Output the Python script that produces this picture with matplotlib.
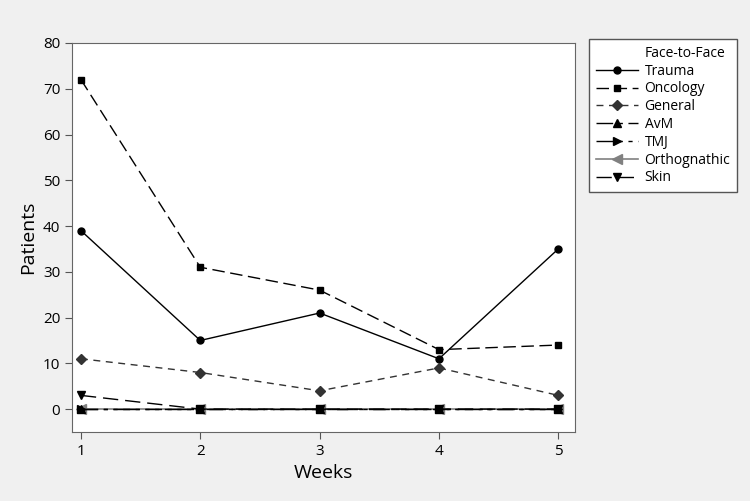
import matplotlib.pyplot as plt
from matplotlib.lines import Line2D

plt.rcParams['font.family'] = ['Open Sans', 'DejaVu Sans']

weeks = [1, 2, 3, 4, 5]
trauma = [39, 15, 21, 11, 35]
oncology = [72, 31, 26, 13, 14]
general = [11, 8, 4, 9, 3]
avm = [0, 0, 0, 0, 0]
tmj = [0, 0, 0, 0, 0]
orthognathic = [0, 0, 0, 0, 0]
skin = [3, 0, 0, 0, 0]

fig = plt.figure(figsize=(7.5, 5.01), dpi=100)
fig.set_facecolor('#f0f0f0')
ax = fig.add_axes([72 / 750, 1 - 432 / 501, (575 - 72) / 750, (432 - 43) / 501])

ax.plot(weeks, orthognathic, color='#808080', marker='<', markersize=7, linewidth=1.2, label='Orthognathic')
ax.plot(weeks, trauma, color='black', marker='o', markersize=5, linewidth=1, label='Trauma')
ax.plot(weeks, oncology, color='black', marker='s', markersize=5, linewidth=1, dashes=(9, 4), label='Oncology')
ax.plot(weeks, general, color='#333333', marker='D', markersize=5, linewidth=1, dashes=(5, 4), label='General')
ax.plot(weeks, avm, color='black', marker='^', markersize=6, linewidth=1, dashes=(12, 4, 3, 4), label='AvM')
ax.plot(weeks, tmj, color='black', marker='>', markersize=6, linewidth=1, dashes=(12, 4, 3, 4, 3, 4), label='TMJ')
ax.plot(weeks, skin, color='black', marker='v', markersize=6, linewidth=1, dashes=(11, 5), label='Skin')

ax.set_xlim(0.925, 5.14)
ax.set_ylim(-5, 80)
ax.set_xticks(weeks)
ax.set_yticks(range(0, 81, 10))
ax.tick_params(labelsize=11, length=5, color='#555555')
ax.set_xlabel('Weeks', fontsize=14)
ax.set_ylabel('Patients', fontsize=14)
for s in ax.spines.values():
    s.set_color('#666666')

handles, labels = ax.get_legend_handles_labels()
order = ['Trauma', 'Oncology', 'General', 'AvM', 'TMJ', 'Orthognathic', 'Skin']
hmap = dict(zip(labels, handles))
blank = Line2D([], [], linestyle='none', marker=None)
leg = fig.legend([blank] + [hmap[k] for k in order], ['Face-to-Face'] + order,
                 loc='upper left', bbox_to_anchor=(589 / 750, 1 - 39 / 501),
                 fontsize=10, frameon=True, fancybox=False, framealpha=1,
                 edgecolor='#555555', handlelength=3.0, handletextpad=0.5,
                 labelspacing=0.2, borderpad=0.5, borderaxespad=0)
leg.get_frame().set_linewidth(1)

fig.savefig('out.png', dpi=100, facecolor=fig.get_facecolor())
